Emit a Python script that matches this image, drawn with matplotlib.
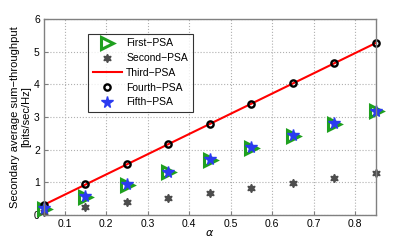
import numpy as np
import matplotlib.pyplot as plt

alpha = [0.05, 0.15, 0.25, 0.35, 0.45, 0.55, 0.65, 0.75, 0.85]
first_psa = [0.18, 0.55, 0.93, 1.30, 1.68, 2.05, 2.42, 2.80, 3.18]
second_psa = [0.08, 0.23, 0.38, 0.53, 0.68, 0.83, 0.98, 1.13, 1.28]
third_psa = [0.31, 0.93, 1.55, 2.17, 2.79, 3.41, 4.03, 4.65, 5.27]
fourth_psa = [0.31, 0.94, 1.55, 2.17, 2.79, 3.41, 4.03, 4.65, 5.27]
fifth_psa = [0.20, 0.57, 0.95, 1.32, 1.70, 2.07, 2.44, 2.81, 3.19]

plt.rcParams['font.family'] = ['Liberation Sans', 'DejaVu Sans']

fig = plt.figure(figsize=(4.15, 2.42), dpi=100)
ax = fig.add_axes([0.106, 0.112, 0.800, 0.809])

ax.plot(alpha, first_psa, linestyle='none', marker='>', markersize=8,
        markerfacecolor='none', markeredgecolor='#1fa01f', markeredgewidth=2.2,
        label='First\u2212PSA', clip_on=False)
ax.plot(alpha, second_psa, linestyle='none', marker=(6, 1, 0), markersize=6,
        color='#4d4d4d', label='Second\u2212PSA', clip_on=False)
ax.plot(alpha, third_psa, color='red', lw=1.5, label='Third\u2212PSA')
ax.plot(alpha, fourth_psa, linestyle='none', marker='o', markersize=4.5,
        markerfacecolor='none', markeredgecolor='black', markeredgewidth=1.7,
        label='Fourth\u2212PSA', clip_on=False)
ax.plot(alpha, fifth_psa, linestyle='none', marker='*', markersize=8.5,
        color='#2b3bf0', label='Fifth\u2212PSA', clip_on=False)

ax.set_xlim(0.05, 0.85)
ax.set_ylim(0, 6)
ax.set_xticks([0.1, 0.2, 0.3, 0.4, 0.5, 0.6, 0.7, 0.8])
ax.set_yticks([0, 1, 2, 3, 4, 5, 6])
ax.tick_params(direction='in', labelsize=7.5, length=3, color='#808080', pad=3)
ax.grid(True, linestyle=':', color='#b0b0b0', lw=0.8)
for s in ax.spines.values():
    s.set_color('#808080')
    s.set_linewidth(1.0)

ax.set_xlabel(r'$\alpha$', fontsize=8, labelpad=-1)
ax.set_ylabel('Secondary average sum\u2212throughput\n[bits/sec/Hz]', fontsize=8,
              labelpad=2)

leg = ax.legend(loc='upper left', bbox_to_anchor=(0.133, 0.925), fontsize=7.5,
                frameon=True, fancybox=False, edgecolor='black', borderpad=0.45,
                handlelength=2.8, labelspacing=0.45, handletextpad=0.4,
                borderaxespad=0)
leg.get_frame().set_linewidth(0.8)

fig.savefig('out.png', dpi=100)
